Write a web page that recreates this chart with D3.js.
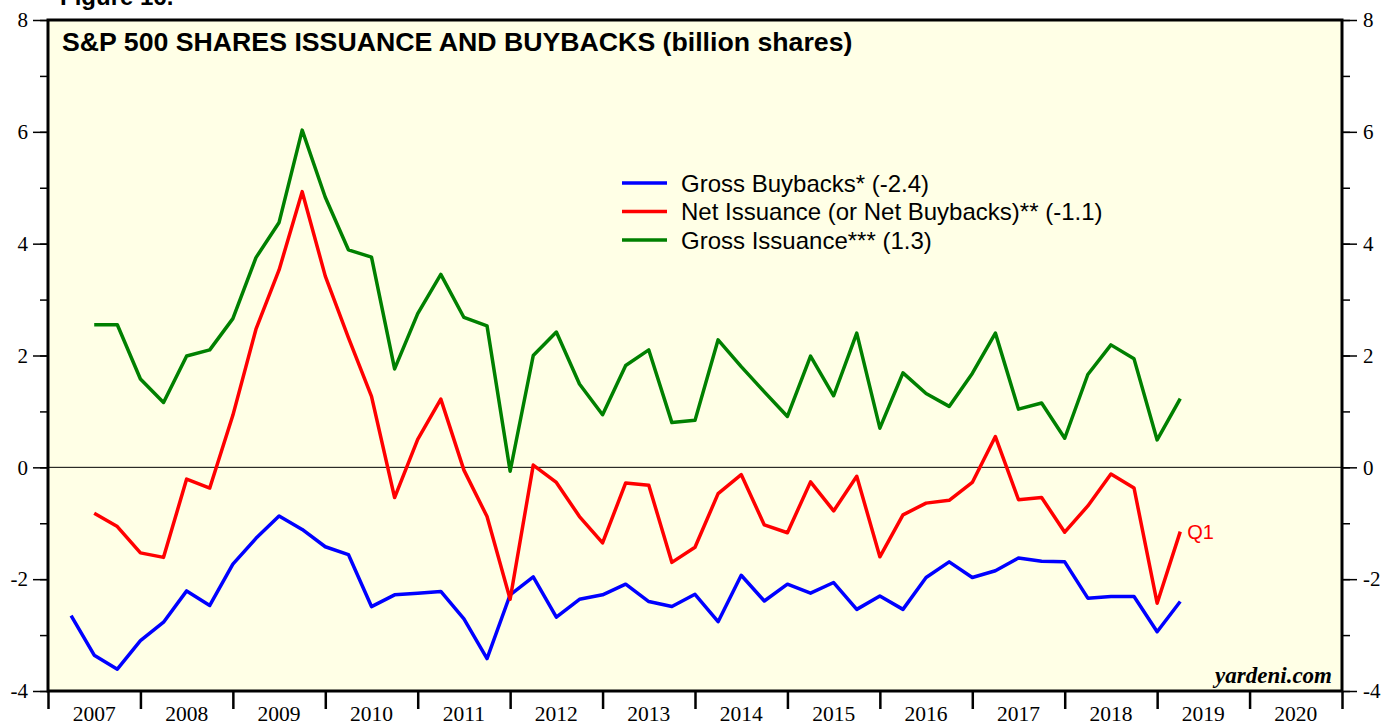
<!DOCTYPE html>
<html>
<head>
<meta charset="utf-8">
<script src="https://d3js.org/d3.v7.min.js"></script>
<style>
  body { margin: 0; background: #fff; }
  svg { display: block; }
</style>
</head>
<body>
<div id="chart"></div>
<script>
// quarters shown (end of quarter), 2007Q1 .. 2019Q1
var quarters = [
  "2007Q1","2007Q2","2007Q3","2007Q4","2008Q1","2008Q2","2008Q3","2008Q4",
  "2009Q1","2009Q2","2009Q3","2009Q4","2010Q1","2010Q2","2010Q3","2010Q4",
  "2011Q1","2011Q2","2011Q3","2011Q4","2012Q1","2012Q2","2012Q3","2012Q4",
  "2013Q1","2013Q2","2013Q3","2013Q4","2014Q1","2014Q2","2014Q3","2014Q4",
  "2015Q1","2015Q2","2015Q3","2015Q4","2016Q1","2016Q2","2016Q3","2016Q4",
  "2017Q1","2017Q2","2017Q3","2017Q4","2018Q1","2018Q2","2018Q3","2018Q4",
  "2019Q1"
];

// billion shares
var grossBuybacks = [
  -2.65, -3.36, -3.61, -3.10, -2.77, -2.21, -2.47, -1.73,
  -1.27, -0.87, -1.11, -1.42, -1.56, -2.49, -2.28, -2.25,
  -2.22, -2.71, -3.42, -2.28, -1.96, -2.68, -2.36, -2.28,
  -2.09, -2.40, -2.49, -2.27, -2.76, -1.93, -2.39, -2.09,
  -2.25, -2.06, -2.54, -2.30, -2.54, -1.97, -1.69, -1.97,
  -1.85, -1.62, -1.68, -1.69, -2.34, -2.31, -2.31, -2.94,
  -2.40
];
var netIssuance = [
  null, -0.82, -1.06, -1.53, -1.61, -0.21, -0.37, 0.93,
  2.47, 3.53, 4.93, 3.42, 2.32, 1.27, -0.54, 0.50,
  1.22, -0.05, -0.88, -2.36, 0.04, -0.27, -0.88, -1.35,
  -0.28, -0.32, -1.70, -1.43, -0.47, -0.13, -1.03, -1.17,
  -0.26, -0.78, -0.16, -1.60, -0.85, -0.64, -0.59, -0.27,
  0.55, -0.58, -0.54, -1.16, -0.69, -0.12, -0.37, -2.43,
  -1.15
];
var grossIssuance = [
  null, 2.55, 2.55, 1.58, 1.16, 1.99, 2.10, 2.66,
  3.75, 4.38, 6.03, 4.83, 3.89, 3.76, 1.76, 2.75,
  3.45, 2.68, 2.53, -0.07, 2.00, 2.42, 1.49, 0.94,
  1.82, 2.10, 0.80, 0.84, 2.28, 1.80, 1.35, 0.91,
  1.99, 1.28, 2.40, 0.70, 1.69, 1.32, 1.09, 1.68,
  2.40, 1.04, 1.15, 0.52, 1.66, 2.19, 1.94, 0.49,
  1.23
];

var years = [2007,2008,2009,2010,2011,2012,2013,2014,2015,2016,2017,2018,2019,2020];
var yTicks = [-4,-2,0,2,4,6,8];
var legendLabels = [
  "Gross Buybacks* (-2.4)",
  "Net Issuance (or Net Buybacks)** (-1.1)",
  "Gross Issuance*** (1.3)"
];
var colors = ["#0000ff", "#ff0000", "#008000"];

// set the dimensions of the page and plot frame
var W = 1381, H = 721;
var frame = {left: 48, right: 1342, top: 20, bottom: 691};

var svg = d3.select("#chart").append("svg")
  .attr("width", W)
  .attr("height", H);

// quarter label -> year fraction at end of quarter
function qx(q) {
  return +q.slice(0, 4) + (+q.slice(5)) * 0.25;
}

var x = d3.scaleLinear().domain([2007, 2021]).range([frame.left, frame.right]);
var y = d3.scaleLinear().domain([-4, 8]).range([frame.bottom, frame.top]);

var sans = "Liberation Sans, Arial, sans-serif";
var serif = "Liberation Serif, Times New Roman, serif";
// plain hyphen for negatives, like the original
var plain = function(d) { return String(d); };

// partially visible figure heading at the very top
svg.append("text")
  .attr("x", 60).attr("y", 5)
  .style("font-family", sans)
  .style("font-weight", "bold")
  .style("font-size", "24px")
  .text("Figure 16.");

// plot background
svg.append("rect")
  .attr("x", frame.left).attr("y", frame.top)
  .attr("width", frame.right - frame.left).attr("height", frame.bottom - frame.top)
  .attr("fill", "#ffffe6");

// zero line
svg.append("line")
  .attr("x1", frame.left).attr("x2", frame.right)
  .attr("y1", y(0)).attr("y2", y(0))
  .attr("stroke", "#000").attr("stroke-width", 1);

// the lines
var line = d3.line()
  .defined(function(d) { return d[1] != null; })
  .x(function(d) { return x(qx(d[0])); })
  .y(function(d) { return y(d[1]); });

[grossBuybacks, netIssuance, grossIssuance].forEach(function(series, i) {
  var data = quarters.map(function(q, j) { return [q, series[j]]; });
  svg.append("path")
    .datum(data)
    .attr("fill", "none")
    .attr("stroke", colors[i])
    .attr("stroke-width", 3.5)
    .attr("stroke-linejoin", "round")
    .attr("d", line);
});

// frame
svg.append("rect")
  .attr("x", frame.left).attr("y", frame.top)
  .attr("width", frame.right - frame.left).attr("height", frame.bottom - frame.top)
  .attr("fill", "none")
  .attr("stroke", "#000")
  .attr("stroke-width", 3);

// y axes, left and right; minor ticks every 1
var minor = d3.range(-4, 9, 1);
var axes = [
  svg.append("g").attr("transform", "translate(" + frame.left + ",0)")
    .call(d3.axisLeft(y).tickValues(minor).tickSize(8).tickFormat("")),
  svg.append("g").attr("transform", "translate(" + frame.left + ",0)")
    .call(d3.axisLeft(y).tickValues(yTicks).tickSize(15).tickPadding(5)
      .tickFormat(plain)),
  svg.append("g").attr("transform", "translate(" + frame.right + ",0)")
    .call(d3.axisRight(y).tickValues(minor).tickSize(8).tickFormat("")),
  svg.append("g").attr("transform", "translate(" + frame.right + ",0)")
    .call(d3.axisRight(y).tickValues(yTicks).tickSize(15).tickPadding(6)
      .tickFormat(plain))
];

axes.forEach(function(g) {
  g.select(".domain").remove();
  g.selectAll("line").attr("stroke", "#000").attr("stroke-width", 1.5);
  g.selectAll("text")
    .style("font-family", serif)
    .style("font-size", "21px")
    .attr("fill", "#000");
});

// x axis: ticks at year boundaries, labels centred in the year
var xAxis = svg.append("g")
  .attr("transform", "translate(0," + frame.bottom + ")")
  .call(d3.axisBottom(x).tickValues(d3.range(2007, 2022)).tickSize(18).tickFormat(""));
xAxis.select(".domain").remove();
xAxis.selectAll("line").attr("stroke", "#000").attr("stroke-width", 2.5);

svg.append("g").selectAll("text")
  .data(years)
  .enter().append("text")
    .attr("x", function(d) { return x(d + 0.5); })
    .attr("y", 721)
    .attr("text-anchor", "middle")
    .style("font-family", serif)
    .style("font-size", "21.5px")
    .text(function(d) { return d; });

// title
svg.append("text")
  .attr("x", 62).attr("y", 51)
  .style("font-family", sans)
  .style("font-weight", "bold")
  .style("font-size", "26.7px")
  .text("S&P 500 SHARES ISSUANCE AND BUYBACKS (billion shares)");

// legend
var legend = svg.append("g");
legendLabels.forEach(function(label, i) {
  var ly = 183 + i * 28.5;
  legend.append("line")
    .attr("x1", 622).attr("x2", 667)
    .attr("y1", ly).attr("y2", ly)
    .attr("stroke", colors[i])
    .attr("stroke-width", 3.5);
  legend.append("text")
    .attr("x", 681).attr("y", ly + 8.5)
    .style("font-family", sans)
    .style("font-size", "24px")
    .text(label);
});

// last-quarter marker for net issuance
svg.append("text")
  .attr("x", x(qx("2019Q1")) + 7)
  .attr("y", y(netIssuance[netIssuance.length - 1]) + 7)
  .attr("fill", "#ff0000")
  .style("font-family", sans)
  .style("font-size", "20px")
  .text("Q1");

// source
svg.append("text")
  .attr("x", 1332).attr("y", 683)
  .attr("text-anchor", "end")
  .style("font-family", serif)
  .style("font-weight", "bold")
  .style("font-style", "italic")
  .style("font-size", "23px")
  .text("yardeni.com");
</script>
</body>
</html>
